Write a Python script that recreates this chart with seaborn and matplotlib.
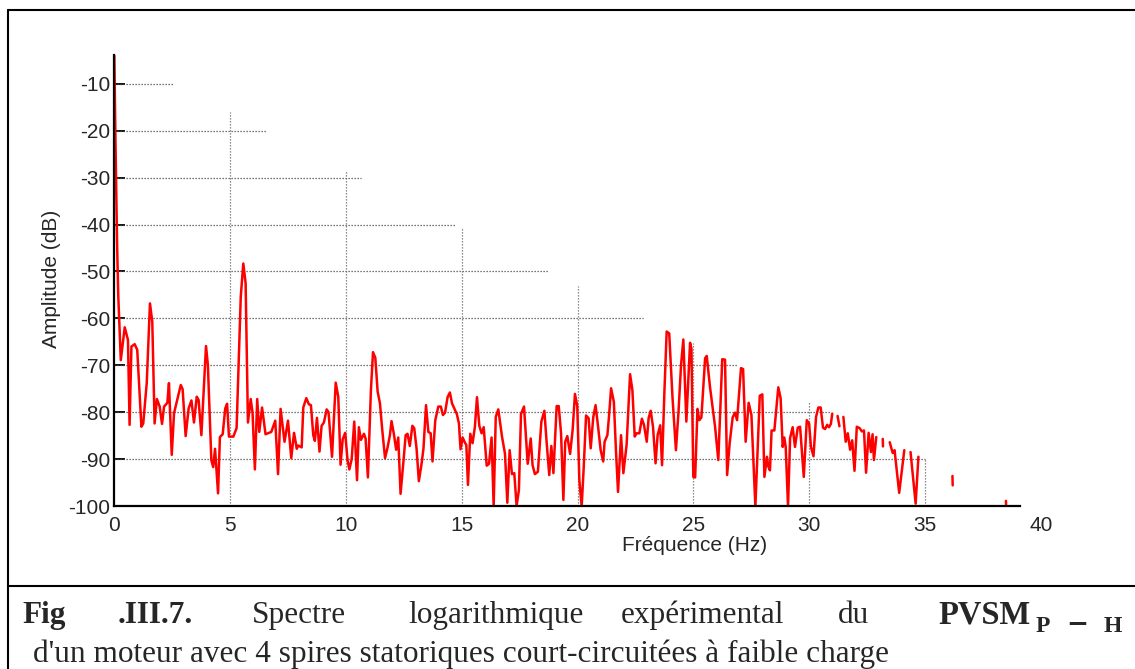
import numpy as np
import pandas as pd
import matplotlib
matplotlib.use("Agg")
import matplotlib.pyplot as plt
import seaborn as sns
from matplotlib.lines import Line2D

nan = np.nan

# ---------------- data ----------------
freq = [0.00, 0.05, 0.12, 0.17, 0.28, 0.45, 0.59, 0.66, 0.74, 0.88, 0.99, 1.17, 1.25, 1.40, 1.54, 1.64,
        1.74, 1.84, 1.96, 2.06, 2.15, 2.29, 2.36, 2.48, 2.58, 2.75, 2.87, 2.95, 3.08, 3.21, 3.33, 3.44,
        3.56, 3.64, 3.76, 3.96, 4.04, 4.19, 4.27, 4.35, 4.48, 4.56, 4.68, 4.79, 4.87, 4.95, 5.14, 5.28,
        5.46, 5.57, 5.67, 5.77, 5.89, 5.97, 6.07, 6.17, 6.26, 6.38, 6.53, 6.78, 6.95, 7.07, 7.18, 7.35,
        7.50, 7.64, 7.76, 7.88, 7.94, 8.09, 8.16, 8.29, 8.40, 8.49, 8.59, 8.66, 8.75, 8.86, 8.95, 9.05,
        9.17, 9.25, 9.40, 9.56, 9.67, 9.77, 9.86, 9.97, 10.07, 10.15, 10.25, 10.36, 10.48, 10.56, 10.65,
        10.78, 10.85, 10.95, 11.08, 11.17, 11.27, 11.37, 11.47, 11.57, 11.69, 11.80, 11.90, 11.97, 12.07,
        12.17, 12.26, 12.36, 12.49, 12.58, 12.66, 12.76, 12.87, 12.95, 13.05, 13.15, 13.27, 13.35, 13.46,
        13.56, 13.66, 13.74, 13.86, 13.99, 14.10, 14.19, 14.28, 14.39, 14.49, 14.58, 14.68, 14.79, 14.88,
        14.95, 15.04, 15.14, 15.20, 15.27, 15.37, 15.47, 15.57, 15.66, 15.76, 15.86, 15.95, 16.08, 16.18,
        16.29, 16.38, 16.47, 16.58, 16.74, 16.87, 16.97, 17.07, 17.17, 17.27, 17.37, 17.47, 17.56, 17.69,
        17.85, 17.98, 18.06, 18.16, 18.29, 18.44, 18.57, 18.67, 18.78, 18.87, 18.96, 19.10, 19.19, 19.29,
        19.39, 19.47, 19.56, 19.68, 19.79, 19.89, 19.99, 20.08, 20.18, 20.27, 20.37, 20.48, 20.57, 20.68,
        20.78, 20.90, 21.00, 21.11, 21.17, 21.29, 21.36, 21.45, 21.57, 21.66, 21.75, 21.88, 21.98, 22.12,
        22.27, 22.37, 22.47, 22.55, 22.67, 22.78, 22.87, 22.99, 23.07, 23.16, 23.26, 23.37, 23.46, 23.57,
        23.65, 23.75, 23.85, 23.96, 24.10, 24.25, 24.36, 24.47, 24.57, 24.70, 24.86, 24.92, 25.00, 25.08,
        25.18, 25.26, 25.35, 25.51, 25.58, 25.72, 25.94, 26.08, 26.25, 26.37, 26.46, 26.57, 26.70, 26.80,
        26.89, 27.06, 27.15, 27.26, 27.39, 27.51, 27.68, 27.87, 27.98, 28.07, 28.18, 28.24, 28.31, 28.38,
        28.50, 28.67, 28.77, 28.86, 28.93, 28.99, 29.09, 29.18, 29.29, 29.39, 29.51, 29.61, 29.77, 29.90,
        30.00, 30.08, 30.19, 30.30, 30.40, 30.50, 30.60, 30.69, 30.78, 30.86, 30.94, 31.00, nan,
        31.23, 31.31, nan,
        31.48, 31.58, 31.67, 31.77, 31.86, 31.96, 32.06, 32.18, 32.28, 32.37, 32.46, 32.57, 32.67, 32.74,
        32.80, 32.90, nan,
        33.18, 33.19, nan,
        33.48, 33.61, 33.69, 33.89, 34.11, nan,
        34.38, 34.60, 34.72, nan,
        36.19, 36.20, nan,
        38.50, 38.51]

amp = [-3.8, -22.0, -44.0, -55.0, -68.9, -61.9, -64.6, -82.7, -66.0, -65.5, -66.7, -83.1, -82.4, -73.8, -56.8, -60.7,
       -82.4, -77.2, -78.8, -82.5, -78.8, -78.0, -73.8, -89.1, -80.2, -76.7, -74.2, -75.1, -85.1, -79.2, -77.5, -82.2,
       -76.7, -77.4, -84.9, -65.9, -69.9, -90.2, -91.7, -87.8, -97.3, -85.3, -84.7, -79.2, -78.2, -85.2, -85.2, -83.4,
       -55.4, -48.3, -52.5, -82.2, -77.2, -80.2, -92.2, -77.2, -84.2, -79.0, -84.7, -84.2, -81.8, -93.2, -79.3, -86.3,
       -81.8, -89.8, -84.4, -87.8, -87.1, -87.5, -79.0, -77.0, -78.3, -78.5, -84.9, -86.1, -81.2, -88.4, -82.9, -82.2,
       -79.4, -80.0, -89.5, -73.7, -76.7, -91.2, -85.8, -84.4, -90.2, -92.2, -90.0, -82.0, -94.5, -83.2, -85.9,
       -84.6, -85.6, -93.9, -75.3, -67.2, -68.4, -75.6, -78.1, -83.8, -89.8, -87.5, -84.9, -81.9, -84.6,
       -88.0, -85.4, -97.4, -90.2, -84.9, -84.6, -87.2, -82.9, -83.4, -87.7, -94.7, -90.9, -87.7, -78.5,
       -84.2, -84.5, -90.5, -81.7, -78.8, -78.8, -80.6, -80.1, -76.8, -75.8, -78.1, -79.2, -80.4, -82.4,
       -87.9, -85.4, -86.5, -87.0, -95.5, -84.6, -86.6, -83.1, -76.8, -82.9, -84.5, -83.2, -91.4, -91.0,
       -85.4, -100.1, -81.0, -79.4, -85.2, -88.9, -99.3, -88.1, -93.2, -93.0, -100.0, -96.6, -80.4, -78.8,
       -91.0, -85.6, -91.3, -93.2, -92.7, -82.0, -79.7, -86.6, -93.4, -87.2, -93.0, -78.7, -78.7, -84.5,
       -98.7, -86.3, -85.1, -88.9, -83.8, -76.1, -78.7, -94.5, -100.1, -91.6, -80.7, -81.3, -87.7, -81.1,
       -78.5, -83.6, -88.1, -90.5, -86.3, -84.9, -80.9, -74.9, -77.8, -88.1, -97.0, -84.9, -93.0, -87.0,
       -71.9, -75.3, -85.2, -84.5, -84.5, -81.4, -82.7, -86.3, -81.3, -79.7, -83.1, -90.9, -84.9, -82.8,
       -91.3, -76.0, -62.8, -63.2, -76.7, -88.1, -80.0, -70.0, -64.5, -82.0, -65.2, -66.5, -93.8, -93.9,
       -79.3, -81.7, -81.1, -68.5, -68.0, -74.6, -83.1, -90.2, -68.7, -68.8, -93.4, -86.6, -81.1, -80.1,
       -81.7, -70.6, -70.8, -86.3, -78.0, -80.6, -100.1, -76.5, -76.2, -93.8, -89.5, -91.6, -92.4, -83.9,
       -83.9, -74.7, -77.0, -87.4, -85.4, -87.4, -100.1, -85.5, -83.2, -87.4, -83.3, -83.1, -93.8, -81.7,
       -82.4, -87.4, -89.4, -81.0, -79.0, -79.0, -83.3, -83.6, -82.7, -83.2, -82.5, -80.3, nan,
       -80.8, -83.0, nan,
       -81.0, -86.3, -84.5, -88.0, -86.0, -92.5, -83.1, -83.4, -84.1, -83.9, -92.9, -84.4, -88.5, -84.7,
       -90.2, -85.3, nan,
       -85.7, -87.3, nan,
       -86.4, -88.7, -88.1, -97.2, -88.1, nan,
       -88.5, -99.5, -89.5, nan,
       -93.6, -95.6, nan,
       -98.9, -100.8]

y_ticks = [-100, -90, -80, -70, -60, -50, -40, -30, -20, -10]
x_ticks = [0, 5, 10, 15, 20, 25, 30, 35, 40]
x_label = "Fréquence (Hz)"
y_label = "Amplitude (dB)"
caption_words = ["Fig", ".III.7.", "Spectre", "logarithmique", "expérimental", "du"]
caption_bold = "PVSM"
caption_sub = ["P", "\u2212", "H"]
caption_line2 = "d'un moteur avec 4 spires statoriques court-circuitées à faible charge"

# ---------------- figure ----------------
sns.set_theme(style="white")
plt.rcParams['font.family'] = ['Liberation Sans', 'DejaVu Sans']

W, H = 1135, 669
fig = plt.figure(figsize=(W / 100, H / 100), dpi=100)
fig.patch.set_facecolor("white")

X0, X40 = 114.3, 1040.7      # pixel positions of x = 0 and x = 40
YB, YT = 506.0, 54.8         # pixel positions of y = -100 and y = -3.8
ax = fig.add_axes([X0 / W, 1 - YB / H, (X40 - X0) / W, (YB - YT) / H])
ax.set_facecolor("white")

df = pd.DataFrame({"freq": freq, "amp": amp})
df["seg"] = df["amp"].isna().cumsum()
df = df.dropna()

# clipped dotted grid (bounded by a diagonal, as in the original)
cut0, cut_slope = 2.53, 0.406
grid_kw = dict(ls=(0, (1, 1.4)), color="#4a4a4a", lw=0.9, zorder=1)
for yv in y_ticks[1:]:
    xe = cut0 + cut_slope * (-10 - yv)
    ax.plot([0, xe], [yv, yv], **grid_kw)
for xv in x_ticks[1:-1]:
    yt = -10 - (xv - cut0) / cut_slope
    ax.plot([xv, xv], [-100, yt], **dict(grid_kw, color="#6a6a6a"))

sns.lineplot(data=df, x="freq", y="amp", units="seg", estimator=None, sort=False,
             color="red", lw=1.8, ax=ax, legend=False, zorder=3)

ax.set_xlim(0, 40)
ax.set_ylim(-100, -3.8)
ax.set_xticks(x_ticks)
ax.set_yticks(y_ticks)
ax.set_xticklabels([str(v) for v in x_ticks])
ax.set_yticklabels([str(v) for v in y_ticks])

for s in ["top", "right"]:
    ax.spines[s].set_visible(False)
for s in ["left", "bottom"]:
    ax.spines[s].set_color("black")
    ax.spines[s].set_linewidth(1.6)
    ax.spines[s].set_zorder(4)
ax.spines["bottom"].set_bounds(0, 39.1)

ax.tick_params(axis="y", direction="in", length=8, width=1.3, color="black",
               labelsize=15, pad=3, left=True)
ax.tick_params(axis="x", direction="in", length=0, labelsize=15, pad=7, bottom=True)
ax.grid(False)

ax.set_xlabel(x_label, fontsize=15, labelpad=0)
ax.xaxis.set_label_coords((695 - X0) / (X40 - X0), -(536 - YB) / (YB - YT))
ax.set_ylabel(y_label, fontsize=15, labelpad=0)
ax.yaxis.set_label_coords(-(X0 - 61) / (X40 - X0), (YB - 279) / (YB - YT))

# ---------------- frame and caption ----------------
def px(x, y):
    return x / W, 1 - y / H

frame_kw = dict(color="black", lw=1.5, transform=fig.transFigure)
fig.add_artist(Line2D([7.5 / W, 7.5 / W], [0, 1 - 9.5 / H], **frame_kw))
fig.add_artist(Line2D([7.5 / W, 1], [1 - 9.5 / H, 1 - 9.5 / H], **frame_kw))
fig.add_artist(Line2D([7.5 / W, 1], [1 - 585.7 / H, 1 - 585.7 / H], **frame_kw))

serif = ['Liberation Serif', 'DejaVu Serif']
cap_fs = 22.5
word_x = [22.7, 118, 251.7, 408, 621, 838]
for i, (w, x) in enumerate(zip(caption_words, word_x)):
    fig.text(*px(x, 623), w, fontsize=cap_fs, family=serif,
             fontweight="bold" if i < 2 else "normal", va="baseline", ha="left")
fig.text(*px(938, 623), caption_bold, fontsize=cap_fs + 1, family=serif,
         fontweight="bold", va="baseline", ha="left")
sub_fonts = [serif, ['DejaVu Sans'], serif]
sub_sizes = [17, 19, 17]
for s, x, ha, fam, fs in zip(caption_sub, [1036, 1077, 1122], ["left", "center", "right"],
                             sub_fonts, sub_sizes):
    fig.text(*px(x, 632), s, fontsize=fs, family=fam,
             fontweight="bold", va="baseline", ha=ha)
fig.text(*px(33, 662), caption_line2, fontsize=cap_fs, family=serif,
         va="baseline", ha="left")

fig.savefig("out.png", dpi=100, facecolor="white")
